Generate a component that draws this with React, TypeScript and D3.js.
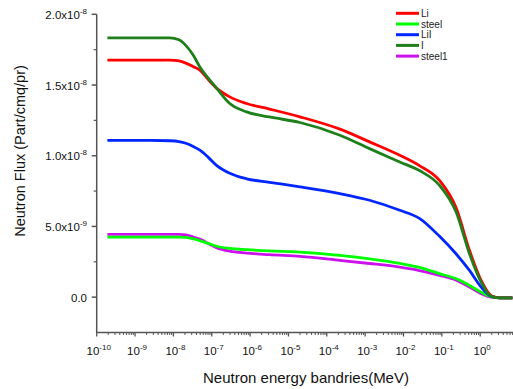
import React from "react";
import * as d3 from "d3";

// Energies (MeV) at which the curves were read
const energies = [
  1.9e-10, 2.5e-9, 8e-9, 1.4e-8, 2.1e-8, 3.3e-8, 4.9e-8, 8e-8, 1.33e-7, 2.95e-7, 8.1e-7,
  3.2e-6, 2e-5, 2.2e-4, 1.3e-3, 8e-3, 2.6e-2, 8.7e-2, 0.237, 0.525, 1.06, 1.95, 3.2, 6.9,
];

// Flux values in units of 1e-9 Part/cmq/pr
const li = [16.76, 16.76, 16.76, 16.7, 16.55, 16.3, 16.05, 15.4, 14.78, 14.16, 13.69,
  13.3, 12.75, 11.88, 10.98, 10.03, 9.3, 8.25, 6.3, 3.31, 1.18, 0.1, -0.05, -0.05];
const steel = [4.25, 4.25, 4.25, 4.25, 4.22, 4.12, 4.0, 3.8, 3.6, 3.45, 3.36,
  3.27, 3.19, 2.95, 2.7, 2.39, 2.1, 1.66, 1.3, 0.83, 0.35, 0.03, -0.05, -0.05];
const lil = [11.09, 11.09, 11.06, 11.0, 10.88, 10.65, 10.39, 9.9, 9.32, 8.76, 8.37,
  8.12, 7.8, 7.32, 6.85, 6.14, 5.57, 4.3, 3.05, 1.89, 0.71, 0.05, -0.05, -0.05];
const iodine = [18.34, 18.34, 18.34, 18.2, 17.8, 17.1, 16.28, 15.5, 14.78, 13.69, 13.1,
  12.74, 12.35, 11.45, 10.5, 9.56, 8.95, 7.9, 6.0, 3.07, 1.06, 0.05, -0.05, -0.05];
const steel1 = [4.44, 4.44, 4.44, 4.44, 4.4, 4.25, 4.1, 3.8, 3.5, 3.25, 3.12,
  3.0, 2.88, 2.6, 2.38, 2.12, 1.88, 1.54, 1.2, 0.71, 0.25, 0.0, -0.05, -0.05];

const seriesNames = ["Li", "steel", "LiI", "I", "steel1"];
const seriesValues = [li, steel, lil, iodine, steel1];
const seriesColors = ["#ff0000", "#00ff00", "#0026ff", "#1f7f1a", "#cc11ee"];
const drawOrder = [4, 1, 2, 0, 3];

const yMajorTicks = [0, 5e-9, 1e-8, 1.5e-8, 2e-8];
const yMajorMantissa = ["0.0", "5.0x10", "1.0x10", "1.5x10", "2.0x10"];
const yMajorExp = ["", "-9", "-8", "-8", "-8"];
const xDecades = [-10, -9, -8, -7, -6, -5, -4, -3, -2, -1, 0];

const FONT = "Arial, 'Liberation Sans', sans-serif";
const AXIS = "#555";

export default function App() {
  const W = 513, H = 389;
  const x0 = 96.7, y0 = 332.5;
  const decadePx = 38.35;
  const x = d3.scaleLog().domain([1e-10, 1e1]).range([x0, x0 + decadePx * 11]);
  const y = d3.scaleLinear().domain([-2.5e-9, 2e-8]).range([y0, 14.3]);

  const line = d3
    .line<[number, number]>()
    .x((d) => x(d[0]))
    .y((d) => y(d[1] * 1e-9))
    .curve(d3.curveMonotoneX);

  const minorX: number[] = [];
  for (let e = -10; e <= 0; e++) {
    for (let m = 2; m <= 9; m++) minorX.push(m * Math.pow(10, e));
  }
  const yMinor = [2.5e-9, 7.5e-9, 1.25e-8, 1.75e-8];

  return (
    <svg
      width={W}
      height={H}
      style={{ position: "absolute", left: 0, top: 0, background: "#fff" }}
      fontFamily={FONT}
    >
      <defs>
        <clipPath id="clip">
          <rect x={x0} y={0} width={W - x0} height={y0} />
        </clipPath>
      </defs>
      <rect width={W} height={H} fill="#fff" />
      {/* curves */}
      <g clipPath="url(#clip)">
        {drawOrder.map((i) => (
          <path
            key={seriesNames[i]}
            d={line(energies.map((e, k) => [e, seriesValues[i][k]]) as [number, number][]) || ""}
            fill="none"
            stroke={seriesColors[i]}
            strokeWidth={2.8}
            strokeLinejoin="round"
          />
        ))}
      </g>

      {/* y axis */}
      <line x1={x0} x2={x0} y1={14.3} y2={y0} stroke={AXIS} strokeWidth={1.5} />
      {yMajorTicks.map((t, i) => (
        <g key={"ym" + i}>
          <line x1={x0 - 5} x2={x0} y1={y(t)} y2={y(t)} stroke={AXIS} strokeWidth={1.5} />
          <text x={87} y={y(t) + 4.5} textAnchor="end" fontSize={11.5} fill="#111">
            {yMajorMantissa[i]}
            {yMajorExp[i] && (
              <tspan fontSize={8} dy={-5}>
                {yMajorExp[i]}
              </tspan>
            )}
          </text>
        </g>
      ))}
      {yMinor.map((t, i) => (
        <line key={"yn" + i} x1={x0 - 3} x2={x0} y1={y(t)} y2={y(t)} stroke={AXIS} strokeWidth={1.2} />
      ))}

      {/* x axis */}
      <line x1={x0 - 0.75} x2={W} y1={y0} y2={y0} stroke={AXIS} strokeWidth={1.5} />
      {xDecades.map((e) => (
        <g key={"xm" + e}>
          <line x1={x(Math.pow(10, e))} x2={x(Math.pow(10, e))} y1={y0} y2={y0 + 4} stroke={AXIS} strokeWidth={1.3} />
          <text x={x(Math.pow(10, e)) + 2} y={355} textAnchor="middle" fontSize={11.5} fill="#111">
            10
            <tspan fontSize={8} dy={-5}>
              {String(e)}
            </tspan>
          </text>
        </g>
      ))}
      {minorX.map((v, i) => (
        <line key={"xn" + i} x1={x(v)} x2={x(v)} y1={y0} y2={y0 + 2.5} stroke={AXIS} strokeWidth={1} />
      ))}

      {/* axis titles */}
      <text x={306} y={383} textAnchor="middle" fontSize={15} fill="#111">
        Neutron energy bandries(MeV)
      </text>
      <text
        transform={`translate(24.5,151) rotate(-90)`}
        textAnchor="middle"
        fontSize={14.5}
        fill="#111"
      >
        Neutron Flux (Part/cmq/pr)
      </text>

      {/* legend */}
      {seriesNames.map((n, i) => {
        const ly = 13.3 + i * 10.7;
        return (
          <g key={"lg" + n}>
            <line x1={396} x2={419} y1={ly} y2={ly} stroke={seriesColors[i]} strokeWidth={3} />
            <text x={421} y={ly + 3.6} fontSize={10} fill="#222">
              {n}
            </text>
          </g>
        );
      })}
    </svg>
  );
}
